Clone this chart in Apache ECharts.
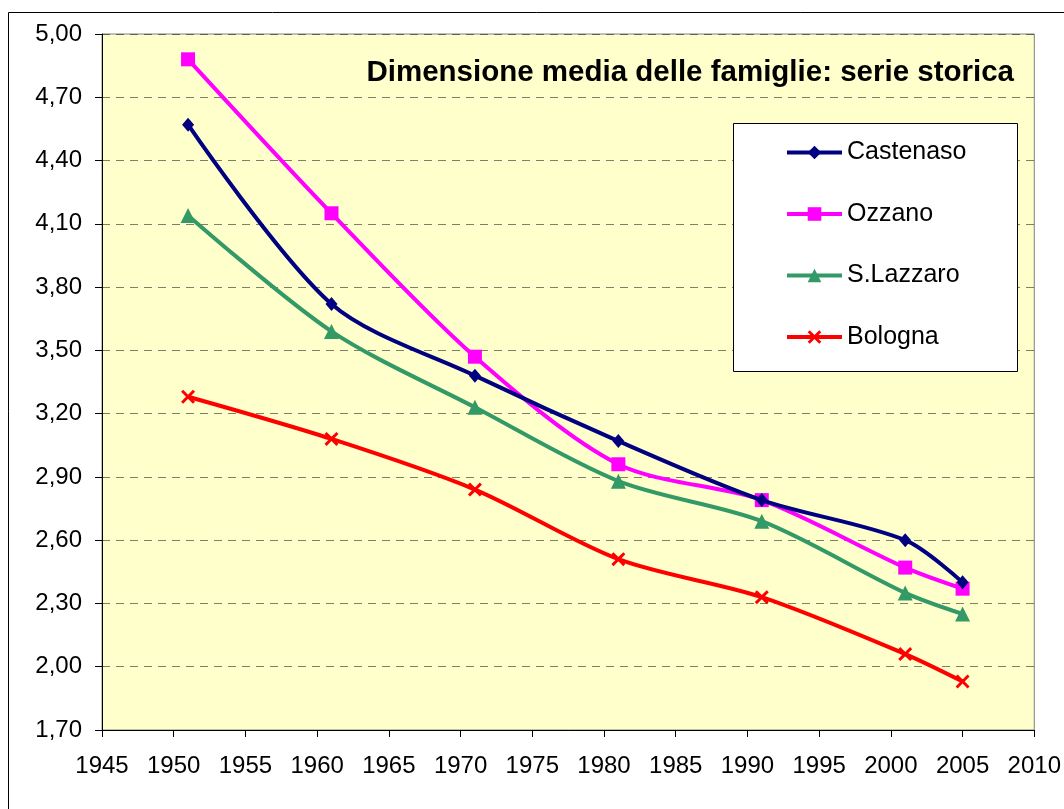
<!DOCTYPE html>
<html><head><meta charset="utf-8">
<script src="https://cdn.jsdelivr.net/npm/echarts@6/dist/echarts.min.js"></script>
<style>html,body{margin:0;padding:0;background:#fff}#c{width:1064px;height:809px}</style>
</head><body><div id="c"></div>
<script>
const years = [1951, 1961, 1971, 1981, 1991, 2001, 2005];
const castenaso = [4.57, 3.72, 3.38, 3.07, 2.79, 2.60, 2.40];
const ozzano = [4.88, 4.15, 3.47, 2.96, 2.79, 2.47, 2.37];
const slazzaro = [4.14, 3.59, 3.23, 2.88, 2.69, 2.35, 2.25];
const bologna = [3.28, 3.08, 2.84, 2.51, 2.33, 2.06, 1.93];
const seriesNames = ['Castenaso', 'Ozzano', 'S.Lazzaro', 'Bologna'];
const titleText = 'Dimensione media delle famiglie: serie storica';

const FONT = '"Liberation Sans", Arial, sans-serif';
const crossPath = 'path://M0,1.5L1.5,0L5,3.5L8.5,0L10,1.5L6.5,5L10,8.5L8.5,10L5,6.5L1.5,10L0,8.5L3.5,5Z';
const defs = [
  {data: castenaso, color: '#000080', symbol: 'diamond', size: [12, 14]},
  {data: ozzano, color: '#FF00FF', symbol: 'rect', size: 14},
  {data: slazzaro, color: '#339966', symbol: 'triangle', size: 15},
  {data: bologna, color: '#FF0000', symbol: crossPath, size: 14}
];
const chart = echarts.init(document.getElementById('c'), null, {renderer: 'canvas'});
chart.setOption({
  animation: false,
  backgroundColor: '#fff',
  title: {
    text: titleText, right: 50, top: 58, padding: 0,
    textStyle: {fontFamily: FONT, fontSize: 29.5, fontWeight: 'bold', color: '#000'}
  },
  graphic: [
    {type: 'rect', z: -1, shape: {x: 8.5, y: 12.5, width: 1060, height: 800}, style: {fill: 'none', stroke: '#000', lineWidth: 1}},
    {type: 'rect', z: 3, shape: {x: 733.5, y: 123.5, width: 284, height: 248}, style: {fill: '#fff', stroke: '#000', lineWidth: 1}}
  ],
  legend: {
    orient: 'vertical', left: 780, top: 135, z: 5,
    itemWidth: 55, itemHeight: 17, itemGap: 36.5,
    lineStyle: {width: 4},
    textStyle: {fontFamily: FONT, fontSize: 25, color: '#000'},
    data: seriesNames
  },
  grid: {left: 102, top: 34, width: 934, height: 696, show: true, backgroundColor: '#FFFFCC', borderColor: '#808080', borderWidth: 1},
  xAxis: {
    type: 'value', min: 1945, max: 2010, interval: 5,
    axisLine: {onZero: false, lineStyle: {color: '#000', width: 1}},
    axisTick: {show: true, length: 7, lineStyle: {color: '#000'}},
    axisLabel: {fontFamily: FONT, fontSize: 24, color: '#000', margin: 24,
      formatter: v => String(v)},
    splitLine: {show: false}
  },
  yAxis: {
    type: 'value', min: 1.7, max: 5.0, interval: 0.3,
    axisLine: {show: true, lineStyle: {color: '#000', width: 1}},
    axisTick: {show: true, length: 7, lineStyle: {color: '#000'}},
    axisLabel: {fontFamily: FONT, fontSize: 24, color: '#000', margin: 20,
      formatter: v => v.toFixed(2).replace('.', ',')},
    splitLine: {show: true, lineStyle: {color: '#000', type: [8, 6], width: 1, opacity: 0.5}}
  },
  series: defs.map((d, i) => ({
    name: seriesNames[i], type: 'line', smooth: 0.3,
    data: years.map((y, k) => [y, d.data[k]]),
    symbol: d.symbol, symbolSize: d.size, showSymbol: true,
    lineStyle: {color: d.color, width: 4},
    itemStyle: {color: d.color, borderWidth: 0},
    z: 10 - i
  }))
});
</script></body></html>
